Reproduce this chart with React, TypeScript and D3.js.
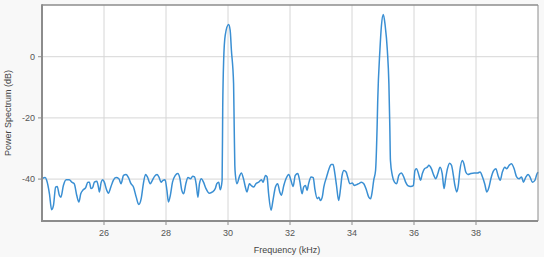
import * as d3 from 'd3';
import React from 'react';

const width = 544;
const height = 257;
const margin = { top: 5, right: 6, bottom: 36, left: 42 };

// frequency (kHz) and power (dB)
const freq = [
  24.0, 24.1, 24.15, 24.24, 24.31, 24.37, 24.44, 24.49, 24.56, 24.61, 24.69, 24.78, 24.88, 24.96,
  25.04, 25.12, 25.19, 25.25, 25.33, 25.41, 25.48, 25.53, 25.58, 25.64, 25.69, 25.77, 25.82, 25.85,
  25.91, 25.96, 26.01, 26.09, 26.14, 26.22, 26.3, 26.39, 26.48, 26.55, 26.63, 26.71, 26.79, 26.87,
  26.95, 27.04, 27.12, 27.2, 27.27, 27.34, 27.4, 27.49, 27.56, 27.63, 27.71, 27.77, 27.84, 27.9,
  27.97, 28.03, 28.08, 28.14, 28.21, 28.3, 28.38, 28.45, 28.51, 28.57, 28.64, 28.71, 28.79, 28.86,
  28.92, 28.98, 29.03, 29.08, 29.14, 29.21, 29.29, 29.4, 29.5, 29.59, 29.64, 29.7, 29.75, 29.81,
  29.83, 29.86, 29.91, 30.02, 30.07, 30.11, 30.18, 30.2, 30.22, 30.24, 30.29, 30.37, 30.43, 30.5,
  30.56, 30.61, 30.69, 30.75, 30.83, 30.9, 30.99, 31.08, 31.13, 31.21, 31.26, 31.31, 31.39, 31.45,
  31.53, 31.6, 31.67, 31.72, 31.8, 31.87, 31.96, 32.03, 32.1, 32.17, 32.25, 32.31, 32.39, 32.44,
  32.5, 32.55, 32.6, 32.68, 32.75, 32.8, 32.88, 32.93, 32.98, 33.04, 33.09, 33.18, 33.26, 33.33,
  33.39, 33.44, 33.5, 33.57, 33.63, 33.68, 33.74, 33.81, 33.86, 33.93, 34.01, 34.08, 34.15, 34.22,
  34.3, 34.38, 34.47, 34.54, 34.6, 34.65, 34.7, 34.76, 34.81, 34.83, 34.9, 34.95, 35.01, 35.07,
  35.14, 35.19, 35.22, 35.24, 35.3, 35.37, 35.44, 35.51, 35.59, 35.67, 35.73, 35.8, 35.89, 35.98,
  36.03, 36.08, 36.16, 36.21, 36.27, 36.34, 36.43, 36.48, 36.56, 36.64, 36.7, 36.77, 36.84, 36.91,
  36.97, 37.02, 37.08, 37.15, 37.21, 37.27, 37.32, 37.38, 37.43, 37.48, 37.56, 37.61, 37.67, 37.74,
  37.83, 37.94, 38.05, 38.13, 38.21, 38.28, 38.35, 38.42, 38.48, 38.56, 38.64, 38.71, 38.78, 38.85,
  38.93, 38.99, 39.07, 39.14, 39.23, 39.31, 39.39, 39.47, 39.53, 39.61, 39.68, 39.74, 39.82, 39.9,
  39.96, 40.0,
];

const power = [
  -39.9, -39.5, -40.4, -44.8, -50.0, -48.6, -42.6, -42.4, -45.3, -45.9, -42.1, -40.2, -40.2, -41.0,
  -41.5, -45.3, -47.5, -44.8, -43.5, -42.8, -41.0, -41.0, -43.1, -42.6, -41.0, -40.7, -42.6, -44.2,
  -41.0, -40.2, -41.0, -43.7, -44.6, -42.6, -40.4, -39.5, -39.9, -41.5, -38.8, -38.5, -39.5, -41.5,
  -42.6, -45.9, -48.3, -46.4, -41.5, -38.5, -39.3, -41.5, -40.4, -39.1, -38.5, -39.3, -41.0, -40.4,
  -40.2, -43.7, -47.5, -45.3, -41.0, -38.8, -38.2, -39.9, -43.7, -44.8, -41.5, -39.5, -39.9, -39.1,
  -39.3, -42.1, -45.9, -41.5, -39.9, -41.0, -43.1, -44.6, -44.2, -43.1, -41.5, -41.0, -43.5, -40.4,
  -16.5, -1.2, 7.0, 10.5, 8.6, 2.1, -8.8, -23.0, -35.5, -38.8, -41.5, -39.1, -38.0, -39.9,
  -42.6, -44.2, -41.5, -42.1, -42.6, -41.5, -41.0, -40.2, -41.0, -38.8, -39.3, -44.8, -50.2, -47.0,
  -42.6, -41.5, -44.2, -45.3, -42.1, -39.9, -38.5, -40.4, -42.4, -38.8, -38.2, -40.4, -44.8, -42.6,
  -42.1, -43.7, -41.5, -39.3, -39.5, -43.1, -46.4, -45.9, -47.0, -45.9, -42.6, -39.3, -36.6, -35.2,
  -35.2, -37.7, -42.1, -47.0, -43.1, -38.8, -37.2, -37.7, -39.3, -41.5, -41.3, -42.1, -41.8, -41.5,
  -41.0, -41.5, -43.7, -45.9, -46.4, -44.2, -40.4, -37.2, -23.0, -14.3, 2.1, 10.2, 13.8, 10.2,
  2.1, -8.8, -23.0, -33.9, -38.8, -41.0, -41.5, -38.8, -38.0, -39.3, -41.0, -42.1, -42.4, -42.1,
  -37.2, -36.6, -38.8, -40.4, -38.2, -36.6, -36.1, -35.5, -36.6, -38.8, -39.9, -38.2, -36.1, -38.2,
  -43.1, -39.9, -36.6, -34.8, -35.5, -38.8, -42.1, -44.2, -42.1, -37.2, -33.9, -35.0, -37.7, -38.5,
  -38.2, -38.0, -38.0, -37.7, -39.3, -41.5, -44.2, -42.6, -39.9, -37.4, -36.6, -38.8, -40.4, -37.7,
  -36.1, -36.6, -35.5, -35.0, -36.6, -39.3, -39.9, -39.3, -41.0, -39.3, -38.5, -39.3, -41.0, -40.4,
  -38.5, -37.7,
];

const xTicks = [26, 28, 30, 32, 34, 36, 38];
const yTicks = [-40, -20, 0];

export default function App() {
  const x = d3
    .scaleLinear()
    .domain([24, 40])
    .range([margin.left, width - margin.right]);
  const y = d3
    .scaleLinear()
    .domain([-53.7, 16.9])
    .range([height - margin.bottom, margin.top]);

  const points: [number, number][] = freq.map((f, i) => [f, power[i]]);
  const line = d3
    .line<[number, number]>()
    .x(d => x(d[0]))
    .y(d => y(d[1]))
    .curve(d3.curveMonotoneX);

  const x0 = margin.left;
  const x1 = width - margin.right;
  const y0 = margin.top;
  const y1 = height - margin.bottom;

  return (
    <svg
      width={width}
      height={height}
      style={{ position: 'absolute', left: 0, top: 0, fontFamily: 'Liberation Sans, Arial, sans-serif' }}
    >
      <rect width={width} height={height} fill="#f8f8f8" />
      <rect x={x0} y={y0} width={x1 - x0} height={y1 - y0} fill="#fff" />

      {xTicks.map(t => (
        <line key={'gx' + t} x1={x(t)} x2={x(t)} y1={y0} y2={y1} stroke="#d6d6d6" />
      ))}
      {yTicks.map(t => (
        <line key={'gy' + t} x1={x0} x2={x1} y1={y(t)} y2={y(t)} stroke="#d6d6d6" />
      ))}

      <path d={line(points) || ''} fill="none" stroke="#3a8fd3" strokeWidth={1.5} strokeLinejoin="round" />

      {/* frame */}
      <line x1={x0} x2={x1} y1={y0} y2={y0} stroke="#8c8c8c" strokeWidth={1.5} />
      <line x1={x1} x2={x1} y1={y0} y2={y1} stroke="#8c8c8c" strokeWidth={1} />
      <line x1={x0} x2={x0} y1={y0 - 0.75} y2={y1 + 1} stroke="#8c8c8c" strokeWidth={2} />
      <line x1={x0} x2={x1} y1={y1} y2={y1} stroke="#8c8c8c" strokeWidth={2} />

      {xTicks.map(t => (
        <g key={'tx' + t}>
          <line x1={x(t)} x2={x(t)} y1={y1} y2={y1 + 4} stroke="#8c8c8c" />
          <text x={x(t)} y={y1 + 15} textAnchor="middle" fontSize={9} fill="#555">
            {t}
          </text>
        </g>
      ))}
      {yTicks.map(t => (
        <g key={'ty' + t}>
          <line x1={x0 - 4} x2={x0} y1={y(t)} y2={y(t)} stroke="#8c8c8c" />
          <text x={x0 - 7} y={y(t) + 3} textAnchor="end" fontSize={9} fill="#555">
            {t}
          </text>
        </g>
      ))}

      <text x={287} y={253} textAnchor="middle" fontSize={9} fill="#444">
        Frequency (kHz)
      </text>
      <text
        transform={`translate(11, ${(y0 + y1) / 2}) rotate(-90)`}
        textAnchor="middle"
        fontSize={9}
        fill="#444"
      >
        Power Spectrum (dB)
      </text>
    </svg>
  );
}
